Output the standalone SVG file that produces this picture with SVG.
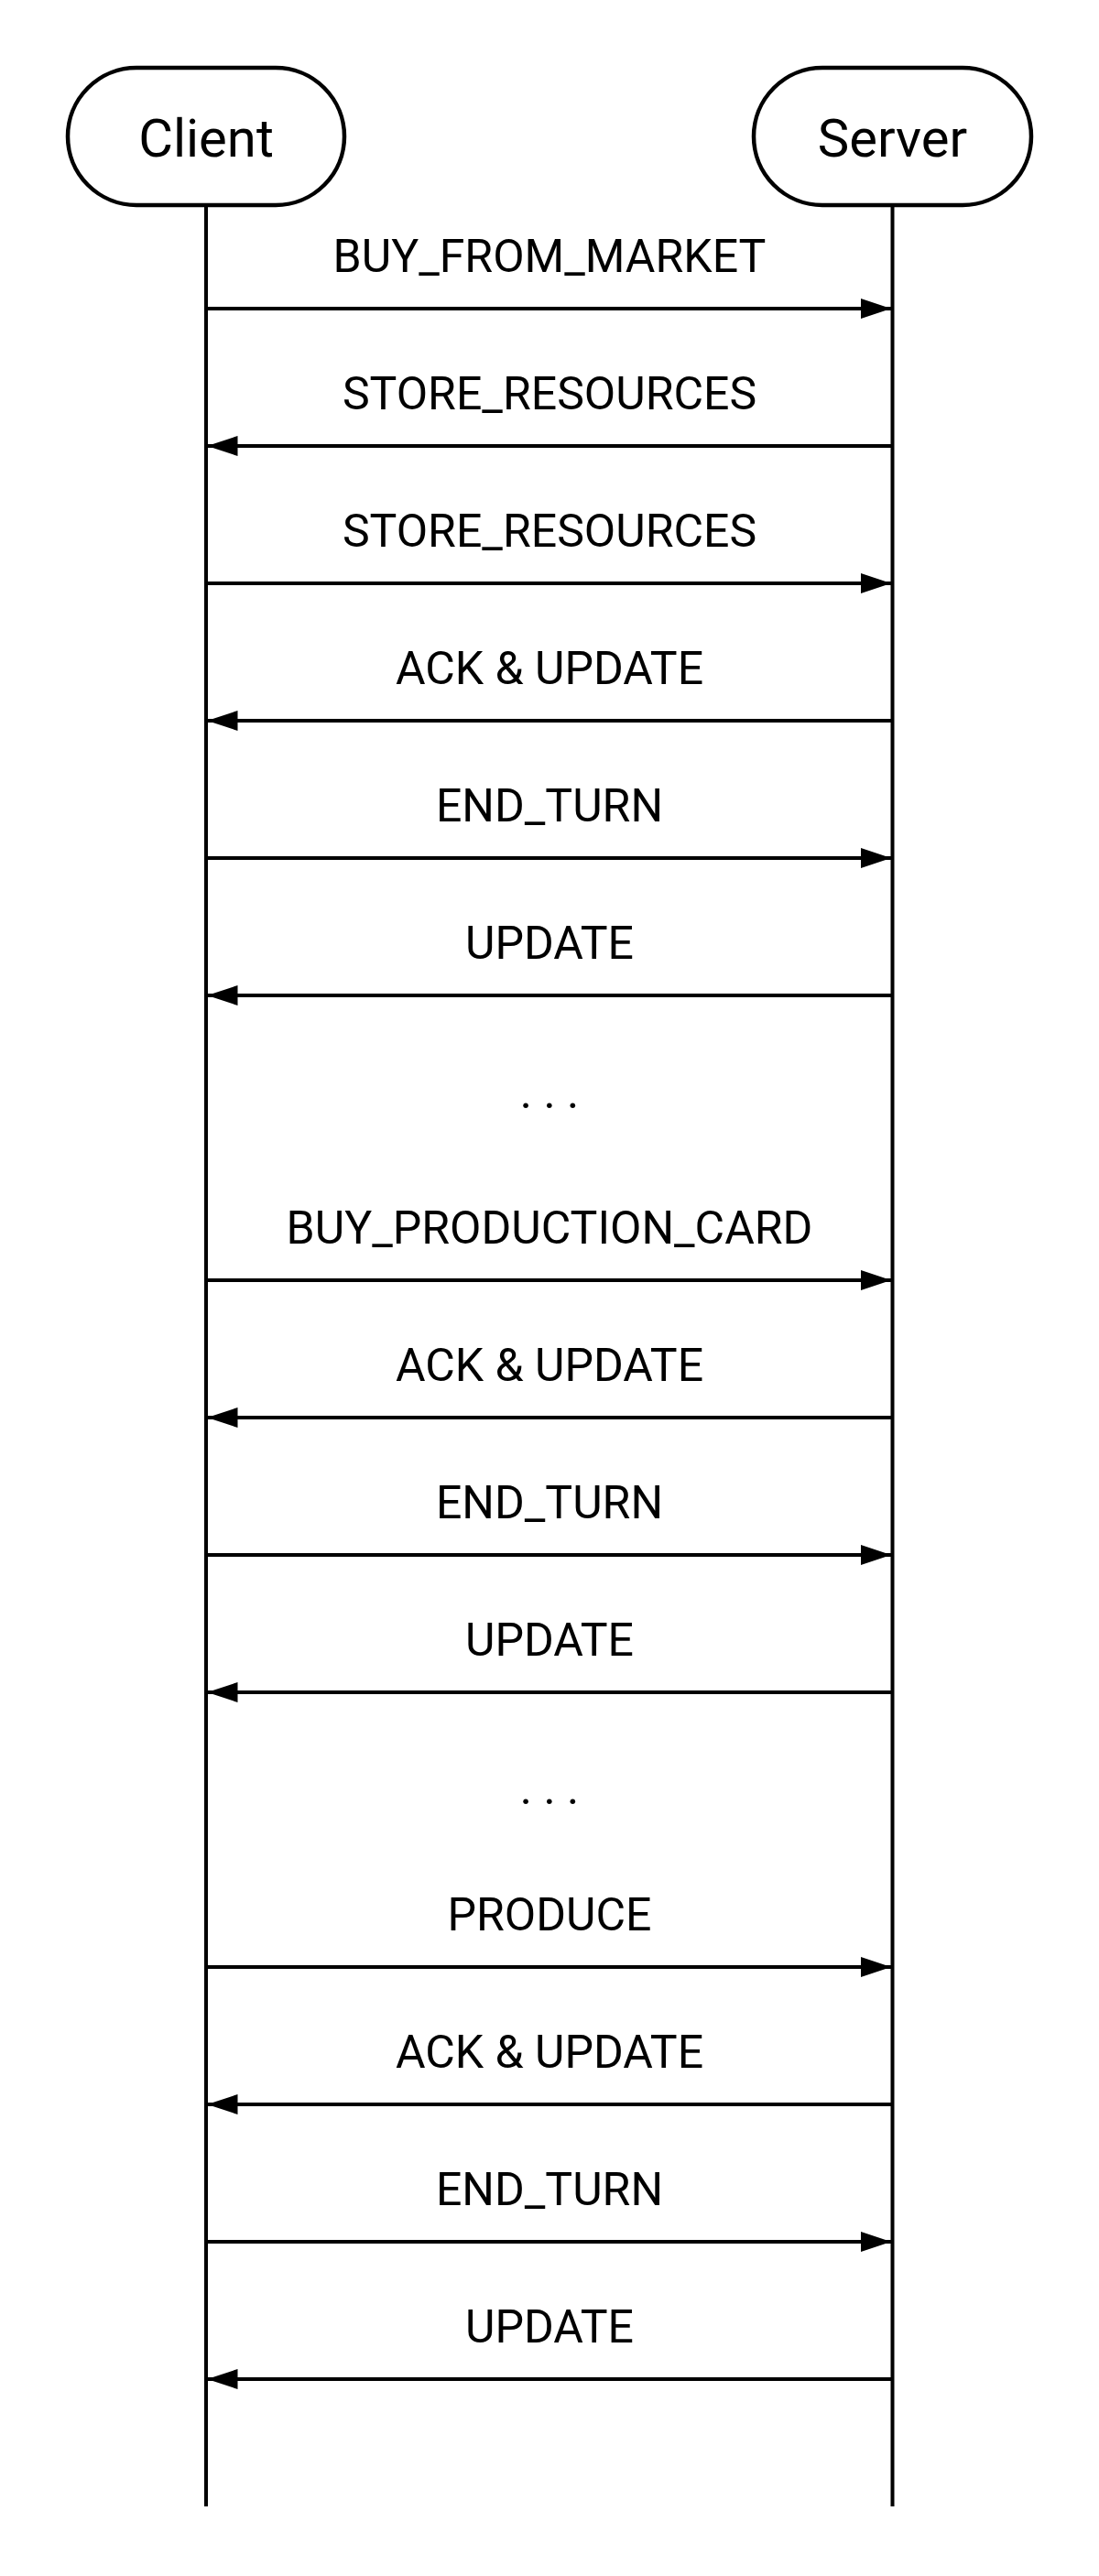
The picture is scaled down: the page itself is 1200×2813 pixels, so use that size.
<svg xmlns="http://www.w3.org/2000/svg" width="1200" height="2813" viewBox="0 0 1200 2813">
<style>
.box{fill:#fff;stroke:#000;stroke-width:4.5}
.life{stroke:#000;stroke-width:4;fill:none}
.msg{stroke:#000;stroke-width:4;fill:none;marker-end:url(#ah)}
.lbl{font-family:Roboto,"Liberation Sans",sans-serif;font-size:50px;fill:#000;text-anchor:middle}
.act{font-family:Roboto,"Liberation Sans",sans-serif;font-size:58px;fill:#000;text-anchor:middle}
</style>
<defs>
<marker id="ah" viewBox="0 0 33 22" refX="33" refY="11" markerWidth="33" markerHeight="22" markerUnits="userSpaceOnUse" orient="auto">
<path d="M0,0 L33,11 L0,22 Z" fill="#000"/>
</marker>
</defs>
<rect width="1200" height="2813" fill="#fff"/>
<g id="client">
<line class="life" x1="225" y1="224" x2="225" y2="2737"/>
<rect class="box" x="74" y="74" width="302" height="150" rx="75" ry="75"/>
<text class="act" x="225" y="171">Client</text>
</g>
<g id="server">
<line class="life" x1="974.5" y1="224" x2="974.5" y2="2737"/>
<rect class="box" x="823" y="74" width="303" height="150" rx="75" ry="75"/>
<text class="act" x="974.5" y="171">Server</text>
</g>
<g id="connectors">
<line class="msg" x1="225" y1="337" x2="973" y2="337"/>
<text class="lbl" x="600" y="297">BUY_FROM_MARKET</text>
<line class="msg" x1="974.5" y1="487" x2="226.5" y2="487"/>
<text class="lbl" x="600" y="447">STORE_RESOURCES</text>
<line class="msg" x1="225" y1="637" x2="973" y2="637"/>
<text class="lbl" x="600" y="597">STORE_RESOURCES</text>
<line class="msg" x1="974.5" y1="787" x2="226.5" y2="787"/>
<text class="lbl" x="600" y="747">ACK &amp; UPDATE</text>
<line class="msg" x1="225" y1="937" x2="973" y2="937"/>
<text class="lbl" x="600" y="897">END_TURN</text>
<line class="msg" x1="974.5" y1="1087" x2="226.5" y2="1087"/>
<text class="lbl" x="600" y="1047">UPDATE</text>
<text class="lbl" x="600" y="1210">. . .</text>
<line class="msg" x1="225" y1="1398" x2="973" y2="1398"/>
<text class="lbl" x="600" y="1358">BUY_PRODUCTION_CARD</text>
<line class="msg" x1="974.5" y1="1548" x2="226.5" y2="1548"/>
<text class="lbl" x="600" y="1508">ACK &amp; UPDATE</text>
<line class="msg" x1="225" y1="1698" x2="973" y2="1698"/>
<text class="lbl" x="600" y="1658">END_TURN</text>
<line class="msg" x1="974.5" y1="1848" x2="226.5" y2="1848"/>
<text class="lbl" x="600" y="1808">UPDATE</text>
<text class="lbl" x="600" y="1970">. . .</text>
<line class="msg" x1="225" y1="2148" x2="973" y2="2148"/>
<text class="lbl" x="600" y="2108">PRODUCE</text>
<line class="msg" x1="974.5" y1="2298" x2="226.5" y2="2298"/>
<text class="lbl" x="600" y="2258">ACK &amp; UPDATE</text>
<line class="msg" x1="225" y1="2448" x2="973" y2="2448"/>
<text class="lbl" x="600" y="2408">END_TURN</text>
<line class="msg" x1="974.5" y1="2598" x2="226.5" y2="2598"/>
<text class="lbl" x="600" y="2558">UPDATE</text>
</g>
</svg>
